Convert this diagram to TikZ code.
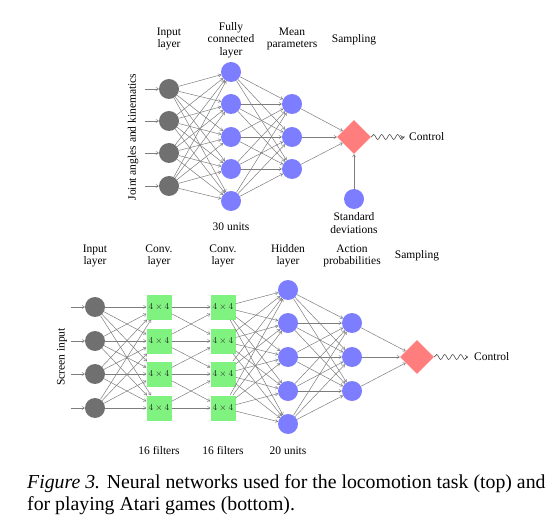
\documentclass[tikz,border=0pt]{standalone}
\usepackage{fontspec}
\setmainfont{Liberation Serif}
\usetikzlibrary{arrows.meta,decorations.pathmorphing,shapes.geometric}
\definecolor{ngray}{RGB}{112,112,112}
\definecolor{nblue}{RGB}{125,125,255}
\definecolor{ngreen}{RGB}{128,242,128}
\definecolor{nred}{RGB}{255,125,125}
\definecolor{egray}{RGB}{125,125,125}
\begin{document}
\begin{tikzpicture}[x=1pt,y=-1pt,
  lbl/.style={font=\fontsize{11.5}{12.5}\selectfont, align=center, inner sep=0},
  inp/.style={circle, fill=ngray, minimum size=20pt, inner sep=0},
  hid/.style={circle, fill=nblue, minimum size=20pt, inner sep=0},
  conv/.style={rectangle, fill=ngreen, minimum size=25pt, inner sep=0, text=black!85, font=\fontsize{9}{10}\selectfont},
  samp/.style={diamond, fill=nred, minimum size=34pt, inner sep=0},
  conn/.style={draw=egray, line width=0.5pt, -{To[length=3pt,width=3.5pt]}},
  wave/.style={draw=black!80, line width=0.5pt, -{To[length=3pt,width=3.5pt]}, shorten >=6pt,
    decorate, decoration={snake, segment length=8pt, amplitude=2.5pt, post length=4pt}}
]
\useasboundingbox (0,0) rectangle (556,526);

% ---------- top network ----------
\foreach \i/\y in {1/89,2/121,3/153,4/186} {
  \node[inp] (a\i) at (169,\y) {};
  \coordinate (ai\i) at (145,\y);
  \draw[conn] (ai\i) -- (a\i);
}
\foreach \i/\y in {1/72,2/104,3/137,4/169,5/201} \node[hid] (b\i) at (231,\y) {};
\foreach \i/\y in {1/104,2/137,3/169} \node[hid] (c\i) at (292,\y) {};
\node[samp] (s1) at (354,137) {};
\node[hid] (sd) at (354,199) {};
\node[lbl, anchor=west] (ctl1) at (409,137) {Control};

\foreach \i in {1,...,4} \foreach \j in {1,...,5} \draw[conn] (a\i) -- (b\j);
\foreach \i in {1,...,5} \foreach \j in {1,...,3} \draw[conn] (b\i) -- (c\j);
\foreach \i in {1,...,3} \draw[conn] (c\i) -- (s1);
\draw[conn] (sd) -- (s1);
\draw[wave] (s1.east) -- (ctl1.west);

\node[lbl, rotate=90] (t1) at (133,137) {Joint angles and kinematics};
\node[lbl] (t2) at (169,39) {Input\\layer};
\node[lbl] (t3) at (231,40) {Fully\\connected\\layer};
\node[lbl] (t4) at (292,39) {Mean\\parameters};
\node[lbl] (t5) at (354,40) {Sampling};
\node[lbl] (t6) at (231,227) {30 units};
\node[lbl] (t7) at (354,223) {Standard\\deviations};

% ---------- bottom network ----------
\foreach \i/\y in {1/307,2/341,3/374,4/408} {
  \node[inp] (d\i) at (95,\y) {};
  \coordinate (di\i) at (71,\y);
  \draw[conn] (di\i) -- (d\i);
  \node[conv] (e\i) at (159,\y) {$4\times4$};
  \node[conv] (f\i) at (223,\y) {$4\times4$};
}
\foreach \i/\y in {1/290,2/323,3/357,4/391,5/424} \node[hid] (g\i) at (288,\y) {};
\foreach \i/\y in {1/323,2/357,3/391} \node[hid] (h\i) at (352,\y) {};
\node[samp] (s2) at (417,357) {};
\node[lbl, anchor=west] (ctl2) at (474,357) {Control};

\foreach \i in {1,...,4} \foreach \j in {1,...,4} \draw[conn] (d\i) -- (e\j);
\foreach \i in {1,...,4} \draw[conn] (e\i) -- (f\i);
\foreach \i/\j in {1/2,2/1,2/3,3/2,3/4,4/3} \draw[conn] (e\i) -- (f\j);
\foreach \i in {1,...,4} \foreach \j in {1,...,5} \draw[conn] (f\i) -- (g\j);
\foreach \i in {1,...,5} \foreach \j in {1,...,3} \draw[conn] (g\i) -- (h\j);
\foreach \i in {1,...,3} \draw[conn] (h\i) -- (s2);
\draw[wave] (s2.east) -- (ctl2.west);

\node[lbl, rotate=90] (u1) at (62,357) {Screen input};
\node[lbl] (u2) at (95,256) {Input\\layer};
\node[lbl] (u3) at (159,256) {Conv.\\layer};
\node[lbl] (u4) at (223,256) {Conv.\\layer};
\node[lbl] (u5) at (288,256) {Hidden\\layer};
\node[lbl] (u6) at (352,256) {Action\\probabilities};
\node[lbl] (u7) at (417,256) {Sampling};
\node[lbl] (u8) at (159,451) {16 filters};
\node[lbl] (u9) at (223,451) {16 filters};
\node[lbl] (u10) at (288,451) {20 units};

% ---------- caption ----------
\node[anchor=west, align=left, inner sep=0, font=\fontsize{19.8}{22}\selectfont] (cap) at (27,495)
  {\textit{Figure 3.} Neural networks used for the locomotion task (top) and\\for playing Atari games (bottom).};
\end{tikzpicture}
\end{document}
